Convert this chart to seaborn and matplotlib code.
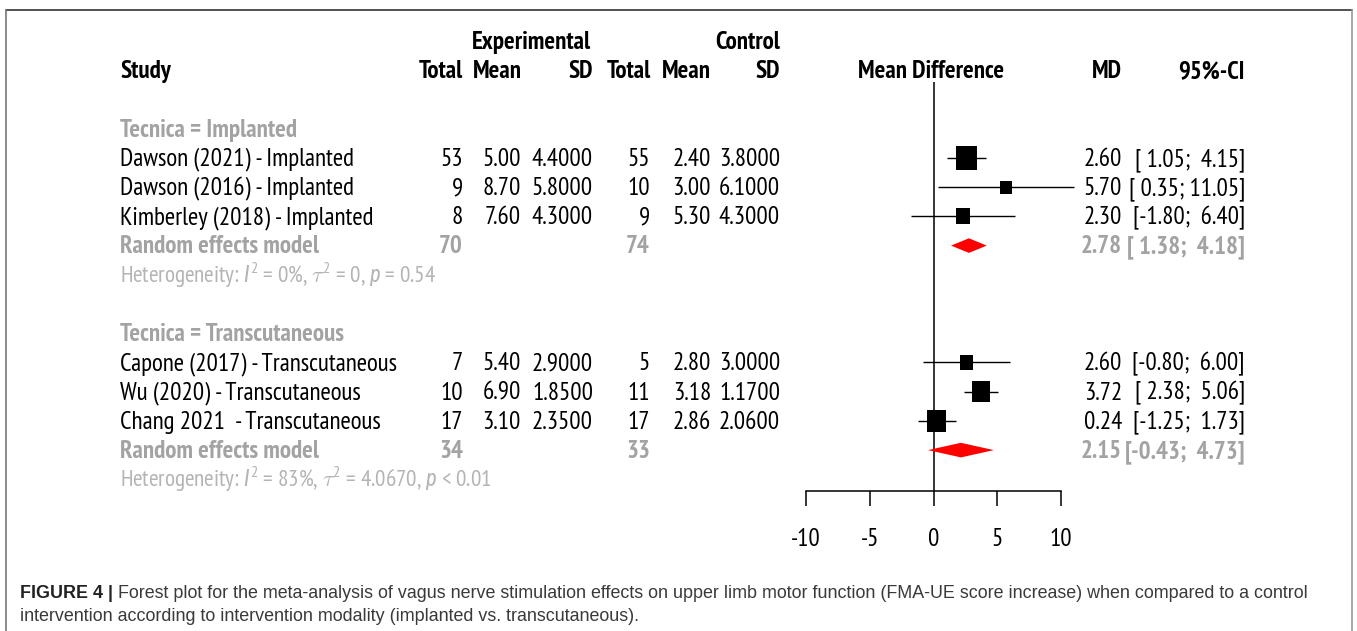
import matplotlib
matplotlib.use('Agg')
import matplotlib.pyplot as plt
import matplotlib.transforms as mtransforms
from matplotlib.lines import Line2D
from matplotlib.path import Path
from matplotlib import font_manager
import pandas as pd
import seaborn as sns

# Study level data
study = ['Dawson (2021) - Implanted', 'Dawson (2016) - Implanted', 'Kimberley (2018) - Implanted',
         'Capone (2017) - Transcutaneous', 'Wu (2020) - Transcutaneous', 'Chang 2021  - Transcutaneous']
group = ['Implanted', 'Implanted', 'Implanted', 'Transcutaneous', 'Transcutaneous', 'Transcutaneous']
n_exp = [53, 9, 8, 7, 10, 17]
mean_exp = [5.00, 8.70, 7.60, 5.40, 6.90, 3.10]
sd_exp = [4.4, 5.8, 4.3, 2.9, 1.85, 2.35]
n_ctl = [55, 10, 9, 5, 11, 17]
mean_ctl = [2.40, 3.00, 5.30, 2.80, 3.18, 2.86]
sd_ctl = [3.8, 6.1, 4.3, 3.0, 1.17, 2.06]
md = [2.60, 5.70, 2.30, 2.60, 3.72, 0.24]
ci_lo = [1.05, 0.35, -1.80, -0.80, 2.38, -1.25]
ci_hi = [4.15, 11.05, 6.40, 6.00, 5.06, 1.73]
weight = [57.6, 17.7, 25.6, 21.6, 44.1, 47.1]   # relative box areas

# Subgroup (random effects) results
groups = ['Implanted', 'Transcutaneous']
re_n_exp = [70, 34]
re_n_ctl = [74, 33]
re_md = [2.78, 2.15]
re_lo = [1.38, -0.43]
re_hi = [4.18, 4.73]
het_text = [r'Heterogeneity: $I^2$ = 0%, $\tau^2$ = 0, $p$ = 0.54',
            r'Heterogeneity: $I^2$ = 83%, $\tau^2$ = 4.0670, $p$ < 0.01']
ticks = [-10, -5, 0, 5, 10]

caption_bold = 'FIGURE 4 |'
caption_1 = ('Forest plot for the meta-analysis of vagus nerve stimulation effects on upper limb motor '
             'function (FMA-UE score increase) when compared to a control')
caption_2 = 'intervention according to intervention modality (implanted vs. transcutaneous).'

sns.set_style('white')
names = {f.name for f in font_manager.fontManager.ttflist}
narrow = next(n for n in ['Liberation Sans Narrow', 'PT Sans Narrow', 'Archivo Narrow', 'DejaVu Sans']
              if n in names)
narrow_it = 'Archivo Narrow' if 'Archivo Narrow' in names else narrow
plt.rcParams['font.family'] = [narrow, 'DejaVu Sans']
plt.rcParams['mathtext.fontset'] = 'custom'
plt.rcParams['mathtext.rm'] = narrow
plt.rcParams['mathtext.it'] = narrow_it + ':italic'
plt.rcParams['axes.unicode_minus'] = False

W, H = 1357, 631
fig = plt.figure(figsize=(W / 100, H / 100), dpi=100)
renderer = fig.canvas.get_renderer()

def fit_size(text, target_px, **kw):
    t = fig.text(0, 0, text, fontsize=12, **kw)
    w = t.get_window_extent(renderer=renderer).width
    t.remove()
    return 12 * target_px / w

FS = fit_size('Dawson (2021) - Implanted', 233)
FS_HET = fit_size(het_text[0], 317)

ax = fig.add_axes([806 / W, 1 - 491 / H, 255 / W, 409 / H])

# row layout
rows = []
for i, g in enumerate(group):
    gi = groups.index(g)
    rows.append(2 + 7 * gi + 1 + group[:i].count(g))
df = pd.DataFrame({'study': study, 'row': rows, 'md': md, 'lo': ci_lo, 'hi': ci_hi, 'weight': weight})

# confidence intervals and boxes
ax.hlines(df['row'], df['lo'], df['hi'], color='black', lw=1.0, clip_on=False, zorder=2)
box = Path([(-0.435, -0.5), (0.435, -0.5), (0.435, 0.5), (-0.435, 0.5), (-0.435, -0.5)], closed=True)
k = (3.16 * 0.72) ** 2
sns.scatterplot(data=df, x='md', y='row', size='weight', sizes=(min(weight) * k, max(weight) * k),
                marker=box, color='black', edgecolor='black', linewidth=0, legend=False,
                ax=ax, zorder=3, clip_on=False)

# pooled diamonds
for gi in range(len(groups)):
    r = 2 + 7 * gi + 4
    ax.fill([re_lo[gi], re_md[gi], re_hi[gi], re_md[gi]], [r, r - 0.25, r, r + 0.25],
            color='#ff0000', lw=0, clip_on=False, zorder=3)

ax.axvline(0, color='black', lw=1.1, zorder=1)
ax.set_xlim(-10, 10)
ax.set_ylim(14.4, 0.4)
ax.set_xticks(ticks)
ax.set_xticklabels([str(t) for t in ticks])
ax.set_yticks([])
ax.set_xlabel('')
ax.set_ylabel('')
sns.despine(ax=ax, left=True)
ax.spines['bottom'].set_color('black')
ax.spines['bottom'].set_linewidth(1.1)
ax.tick_params(axis='x', direction='out', length=10.8, width=1.1, pad=16, labelsize=FS,
               colors='black', bottom=True)
ax.patch.set_alpha(0)

# text columns
tr = mtransforms.blended_transform_factory(fig.transFigure, ax.transData)
BL = 0.27
GRAY = '#a3a3a3'
LGRAY = '#b4b4b4'

def put(xpx, row, s, ha='left', color='black', weight='normal', size=None):
    ax.text(xpx / W, row + BL, s, transform=tr, ha=ha, va='baseline', color=color,
            fontweight=weight, fontsize=size or FS, clip_on=False)

put(531, -1, 'Experimental', ha='center', weight='bold')
put(780, -1, 'Control', ha='right', weight='bold')
put(120, 0, 'Study', weight='bold')
for x, s in [(463, 'Total'), (522, 'Mean'), (593, 'SD'), (651, 'Total'), (711, 'Mean'),
             (780, 'SD'), (1122, 'MD'), (1245, '95%-CI')]:
    put(x, 0, s, ha='right', weight='bold')
put(931, 0, 'Mean Difference', ha='center', weight='bold')

def ci_str(lo, hi):
    return '[{:5.2f}; {:5.2f}]'.format(lo, hi)

for i in range(len(study)):
    r = rows[i]
    put(120, r, study[i])
    put(463, r, str(n_exp[i]), ha='right')
    put(521, r, '{:.2f}'.format(mean_exp[i]), ha='right')
    put(593, r, '{:.4f}'.format(sd_exp[i]), ha='right')
    put(650, r, str(n_ctl[i]), ha='right')
    put(711, r, '{:.2f}'.format(mean_ctl[i]), ha='right')
    put(780, r, '{:.4f}'.format(sd_ctl[i]), ha='right')
    put(1122, r, '{:.2f}'.format(md[i]), ha='right')
    put(1245, r, ci_str(ci_lo[i], ci_hi[i]), ha='right')

for gi, g in enumerate(groups):
    b = 2 + 7 * gi
    put(120, b, 'Tecnica = ' + g, color=GRAY, weight='bold')
    put(120, b + 4, 'Random effects model', color=GRAY, weight='bold')
    put(463, b + 4, str(re_n_exp[gi]), ha='right', color=GRAY, weight='bold')
    put(650, b + 4, str(re_n_ctl[gi]), ha='right', color=GRAY, weight='bold')
    put(1122, b + 4, '{:.2f}'.format(re_md[gi]), ha='right', color=GRAY, weight='bold')
    put(1245, b + 4, ci_str(re_lo[gi], re_hi[gi]), ha='right', color=GRAY, weight='bold')
    put(120, b + 5, het_text[gi], color=LGRAY, size=FS_HET)

# frame
fig.add_artist(Line2D([6 / W, 1352 / W], [1 - 10 / H, 1 - 10 / H], color='#333333', lw=1.2))
fig.add_artist(Line2D([6 / W, 6 / W], [1 - 10 / H, 0], color='#777777', lw=1.2))
fig.add_artist(Line2D([1352 / W, 1352 / W], [1 - 10 / H, 0], color='#999999', lw=1.2))

# caption
cap_font = 'Liberation Sans'
FS_CAP = fit_size(caption_1, 1189, family=cap_font)
tb = fig.text(20 / W, 1 - 598 / H, caption_bold, fontsize=FS_CAP, fontweight='bold',
              family=cap_font, color='#222222')
x1 = tb.get_window_extent(renderer=renderer).x1
fig.text((x1 + 0.28 * FS_CAP * 100 / 72) / W, 1 - 598 / H, caption_1, fontsize=FS_CAP,
         family=cap_font, color='#3a3a3a')
fig.text(20 / W, 1 - 621 / H, caption_2, fontsize=FS_CAP, family=cap_font, color='#3a3a3a')

fig.savefig('out.png', dpi=100, facecolor='white')
